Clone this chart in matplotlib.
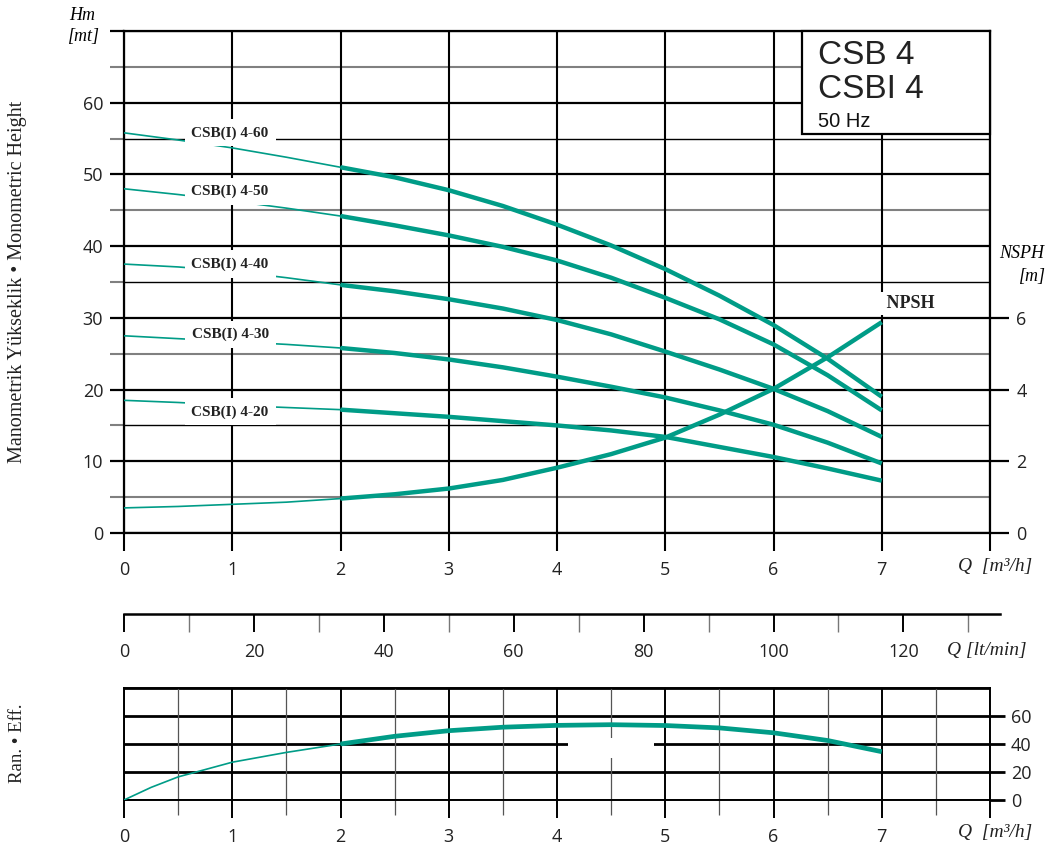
import matplotlib
matplotlib.use('Agg')
import matplotlib.pyplot as plt
from matplotlib.patches import Rectangle
import numpy as np

# flow points, m3/h
q = [0, 0.5, 1, 1.5, 2, 2.5, 3, 3.5, 4, 4.5, 5, 5.5, 6, 6.5, 7]

# head curves, m
h_4_60 = [55.8, 54.8, 53.7, 52.4, 51.0, 49.6, 47.8, 45.6, 43.0, 40.1, 36.8, 33.1, 29.0, 24.3, 19.0]
h_4_50 = [48.0, 47.2, 46.3, 45.3, 44.2, 42.9, 41.5, 39.9, 38.0, 35.6, 32.8, 29.8, 26.3, 22.0, 17.1]
h_4_40 = [37.5, 37.1, 36.5, 35.6, 34.6, 33.7, 32.6, 31.3, 29.7, 27.7, 25.3, 22.8, 20.1, 17.0, 13.4]
h_4_30 = [27.5, 27.1, 26.7, 26.3, 25.8, 25.1, 24.2, 23.1, 21.8, 20.4, 18.9, 17.1, 15.1, 12.6, 9.7]
h_4_20 = [18.5, 18.2, 17.8, 17.5, 17.2, 16.7, 16.2, 15.6, 15.0, 14.3, 13.4, 12.0, 10.6, 9.0, 7.3]
heads = [h_4_60, h_4_50, h_4_40, h_4_30, h_4_20]
names = ['CSB(I) 4-60', 'CSB(I) 4-50', 'CSB(I) 4-40', 'CSB(I) 4-30', 'CSB(I) 4-20']
label_y = [55.8, 47.6, 37.5, 27.7, 16.9]

# NPSH, m
npsh = [0.70, 0.74, 0.80, 0.86, 0.96, 1.08, 1.24, 1.48, 1.82, 2.20, 2.66, 3.30, 4.02, 4.90, 5.88]

# efficiency, %
q_eff = [0, 0.25, 0.5, 1, 1.5, 2, 2.5, 3, 3.5, 4, 4.5, 5, 5.5, 6, 6.5, 7]
eff = [0, 9, 16.5, 27, 34, 40, 45.5, 49.5, 52, 53.3, 53.8, 53.2, 51.5, 48, 42.5, 34.5]

lt_min_major = [0, 20, 40, 60, 80, 100, 120]
lt_min_minor = [10, 30, 50, 70, 90, 110, 130]

W, H = 1051, 848
teal = '#009c87'
serif = 'Liberation Serif'
sans = 'Open Sans'


def fx(x):
    return x / W


def fy(y):
    return 1 - y / H


fig = plt.figure(figsize=(W / 100, H / 100), dpi=100)

# ---- main head chart
ax = fig.add_axes([fx(124), fy(533), fx(990) - fx(124), fy(31) - fy(533)])
ax.set_xlim(0, 8)
ax.set_ylim(0, 70)
for y in range(0, 71, 10):
    ax.axhline(y, color='black', lw=1.6, zorder=1)
for y in [55, 35, 15]:
    ax.axhline(y, color='black', lw=1.0, zorder=1)
for y in [65, 45, 25, 5]:
    ax.axhline(y, color='#808080', lw=1.5, zorder=1)
for x in range(0, 9):
    ax.axvline(x, color='black', lw=1.5, zorder=1)

split = q.index(2)
for h, name, ly in zip(heads, names, label_y):
    ax.plot(q[:split + 1], h[:split + 1], color=teal, lw=1.2, zorder=3)
    ax.plot(q[split:], h[split:], color=teal, lw=3.2, zorder=3, solid_capstyle='butt')
    ax.text(0.98, ly, name, ha='center', va='center', fontsize=11, fontweight='bold',
            family=serif, color='#222222', zorder=4,
            bbox=dict(facecolor='white', edgecolor='none', pad=5))

ax.set_xticks(range(0, 9))
ax.set_xticklabels([str(i) for i in range(0, 8)] + [''])
ax.set_yticks(range(0, 71, 10))
ax.set_yticklabels([str(i) for i in range(0, 61, 10)] + [''])
ax.set_yticks(range(5, 70, 10), minor=True)
ax.tick_params(axis='x', direction='out', length=13, width=1.5, pad=7, labelsize=13)
ax.tick_params(axis='y', which='major', direction='out', length=10, width=1.6, pad=5, labelsize=13)
ax.tick_params(axis='y', which='minor', direction='out', length=10, width=1.5, color='#808080')
for lab in ax.get_xticklabels() + ax.get_yticklabels():
    lab.set_family(sans)
    lab.set_color('#222222')
for s in ax.spines.values():
    s.set_linewidth(1.6)

# title box
ax.add_patch(Rectangle((6.26, 55.7), 1.74, 14.3, facecolor='white', edgecolor='black',
                       lw=1.6, zorder=5, clip_on=False))
ax.text(6.41, (533 - 56.5) / 7.15, 'CSB 4', fontsize=24, family='Liberation Sans', va='center',
        zorder=6, color='#222222')
ax.text(6.41, (533 - 91) / 7.15, 'CSBI 4', fontsize=24, family='Liberation Sans', va='center',
        zorder=6, color='#222222')
ax.text(6.41, (533 - 122.5) / 7.15, '50 Hz', fontsize=14.5, family='Liberation Sans', va='center',
        zorder=6, color='#111111')

# NPSH on right scale
ax2 = ax.twinx()
ax2.set_ylim(0, 14)
ax2.plot(q[:split + 1], npsh[:split + 1], color=teal, lw=1.2)
ax2.plot(q[split:], npsh[split:], color=teal, lw=3.2, solid_capstyle='butt')
ax2.set_yticks([0, 2, 4, 6])
ax2.tick_params(axis='y', direction='out', length=14, width=1.6, pad=5, labelsize=13)
for lab in ax2.get_yticklabels():
    lab.set_family(sans)
    lab.set_color('#222222')
for s in ax2.spines.values():
    s.set_visible(False)
ax2.text(7.0, 32.0 / 5, ' NPSH', ha='left', va='center', fontsize=13, fontweight='bold',
         family=serif, color='#222222', bbox=dict(facecolor='white', edgecolor='none', pad=2))

fig.text(fx(82), fy(15), 'Hm', fontsize=13, family=serif, style='italic', ha='center', va='center')
fig.text(fx(84), fy(37), '[mt]', fontsize=13, family=serif, style='italic', ha='center', va='center')
fig.text(fx(1022), fy(253), 'NSPH', fontsize=13, family=serif, style='italic', ha='center', va='center')
fig.text(fx(1032), fy(276), '[m]', fontsize=13, family=serif, style='italic', ha='center', va='center')
fig.text(fx(958), fy(566), 'Q  [m³/h]', fontsize=14, family=serif, style='italic', ha='left',
         va='center', color='#222222')
fig.text(fx(18), fy(282), 'Manometrik Yükseklik • Monometric Height', rotation=90,
         fontsize=14.5, family=serif, ha='center', va='center', color='#222222')

# ---- lt/min scale
axm = fig.add_axes([fx(124), fy(614), fx(1000) - fx(124), 0.001])
axm.set_xlim(0, 133.33 * 876 / 866)
axm.set_ylim(0, 1)
for side in ['left', 'right', 'top']:
    axm.spines[side].set_visible(False)
axm.spines['bottom'].set_linewidth(1.8)
axm.set_yticks([])
axm.set_xticks(lt_min_major)
axm.set_xticks(lt_min_minor, minor=True)
axm.tick_params(axis='x', which='major', direction='out', length=13, width=1.4, pad=8, labelsize=13)
axm.tick_params(axis='x', which='minor', direction='out', length=13, width=1.0, color='#777777')
for lab in axm.get_xticklabels():
    lab.set_family(sans)
    lab.set_color('#222222')
axm.patch.set_visible(False)
fig.text(fx(947), fy(650), 'Q [lt/min]', fontsize=14, family=serif, style='italic',
         ha='left', va='center', color='#222222')

# ---- efficiency chart
axe = fig.add_axes([fx(124), fy(800), fx(990) - fx(124), fy(688) - fy(800)])
axe.set_xlim(0, 8)
axe.set_ylim(0, 80)
for y in range(0, 81, 20):
    axe.axhline(y, color='black', lw=2.0, zorder=1)
for x in range(0, 9):
    axe.axvline(x, color='black', lw=1.4, zorder=1)
for x in np.arange(0.5, 8, 1.0):
    axe.axvline(x, color='#555555', lw=0.9, zorder=1)
axe.add_patch(Rectangle((4.1, 37.5), 0.8, 5, facecolor='white', edgecolor='none', zorder=2))
axe.add_patch(Rectangle((4.42, 30), 0.16, 14, facecolor='white', edgecolor='none', zorder=2))
se = q_eff.index(2)
axe.plot(q_eff[:se + 1], eff[:se + 1], color=teal, lw=1.2, zorder=3)
axe.plot(q_eff[se:], eff[se:], color=teal, lw=3.4, zorder=3, solid_capstyle='butt')
axe.set_xticks(range(0, 9))
axe.set_xticklabels([str(i) for i in range(0, 8)] + [''])
axe.set_xticks(np.arange(0.5, 8, 1.0), minor=True)
axe.yaxis.tick_right()
axe.set_yticks([0, 20, 40, 60])
axe.tick_params(axis='x', which='major', direction='out', length=13, width=1.4, pad=7, labelsize=13)
axe.tick_params(axis='x', which='minor', direction='out', length=11, width=0.9, color='#555555')
axe.tick_params(axis='y', direction='out', length=11, width=2.0, pad=4, labelsize=13)
for lab in axe.get_xticklabels() + axe.get_yticklabels():
    lab.set_family(sans)
    lab.set_color('#222222')
for s in axe.spines.values():
    s.set_linewidth(1.4)
fig.text(fx(958), fy(833), 'Q  [m³/h]', fontsize=14, family=serif, style='italic', ha='left',
         va='center', color='#222222')
fig.text(fx(18), fy(743), 'Ran. • Eff.', rotation=90, fontsize=13.5, family=serif,
         ha='center', va='center', color='#222222')

fig.savefig('out.png', dpi=100)
